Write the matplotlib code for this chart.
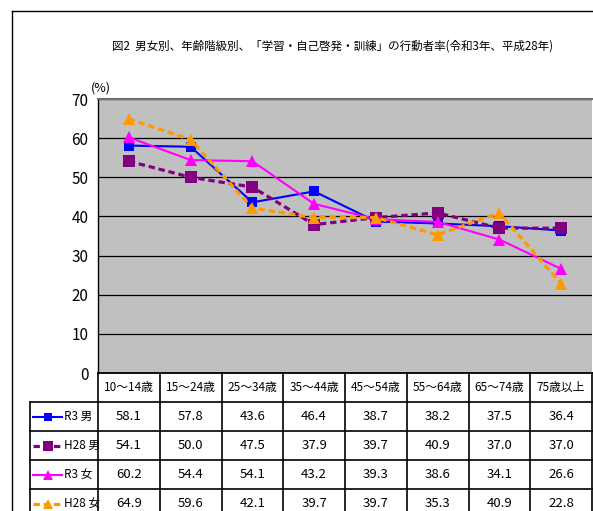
import numpy as np
import matplotlib.pyplot as plt
from matplotlib.lines import Line2D

plt.rcParams['font.family'] = ['Noto Sans CJK JP', 'DejaVu Sans']

age_groups = ["10～14歳", "15～24歳", "25～34歳", "35～44歳",
              "45～54歳", "55～64歳", "65～74歳", "75歳以上"]
series_names = ["R3 男", "H28 男", "R3 女", "H28 女"]
r3_male = [58.1, 57.8, 43.6, 46.4, 38.7, 38.2, 37.5, 36.4]
h28_male = [54.1, 50.0, 47.5, 37.9, 39.7, 40.9, 37.0, 37.0]
r3_female = [60.2, 54.4, 54.1, 43.2, 39.3, 38.6, 34.1, 26.6]
h28_female = [64.9, 59.6, 42.1, 39.7, 39.7, 35.3, 40.9, 22.8]
y_ticks = [0, 10, 20, 30, 40, 50, 60, 70]

all_series = [r3_male, h28_male, r3_female, h28_female]
styles = [
    dict(color="#0000FF", linestyle="-", linewidth=1.5, marker="s", markersize=7.5),
    dict(color="#800080", linestyle=(0, (2.0, 1.2)), linewidth=2.3, marker="s", markersize=8.5),
    dict(color="#FF00FF", linestyle="-", linewidth=1.5, marker="^", markersize=8.5),
    dict(color="#FF9900", linestyle=(0, (2.0, 1.2)), linewidth=2.3, marker="^", markersize=8.5),
]

W, H = 593, 511
fig = plt.figure(figsize=(W / 100, H / 100), dpi=100)

# plot area (pixel box 98..592 x 99..373)
ax = fig.add_axes([98 / W, (H - 373) / H, 494 / W, 274 / H])
ax.set_facecolor("#C0C0C0")
x = np.arange(len(age_groups))
for vals, st in zip(all_series, styles):
    ax.plot(x, vals, markeredgewidth=0, **st)

ax.set_xlim(-0.5, 7.5)
ax.set_ylim(0, 70)
ax.set_yticks(y_ticks)
ax.set_yticklabels([str(t) for t in y_ticks], fontsize=11)
ax.set_xticks([])
ax.tick_params(axis="y", length=0, pad=7)
ax.yaxis.grid(True, color="black", linewidth=0.9)
ax.set_axisbelow(True)
ax.spines["top"].set_color("#707070")
ax.spines["top"].set_linewidth(1.5)
ax.spines["right"].set_visible(False)
ax.spines["left"].set_linewidth(1.0)
ax.spines["bottom"].set_linewidth(1.3)
ax.annotate("(%)", xy=(0, 1), xycoords="axes fraction", xytext=(2, 8),
            textcoords="offset points", ha="center", va="center", fontsize=9)

fig.text(333 / W, (H - 46) / H,
         "図2  男女別、年齢階級別、「学習・自己啓発・訓練」の行動者率(令和3年、平成28年)",
         ha="center", va="center", fontsize=8.3)

# data table under the plot
col_px = 494 / 8
left_col = -0.5 - 68 / col_px
tax = fig.add_axes([30 / W, (H - 518) / H, 562 / W, 145 / H])
tax.set_xlim(left_col, 7.5)
tax.set_ylim(5, 0)
tax.axis("off")

lw = 1.2
for r in range(1, 5):
    tax.plot([left_col, 7.5], [r, r], color="black", linewidth=lw, clip_on=False)
for c in range(9):
    tax.plot([c - 0.5, c - 0.5], [0, 5], color="black", linewidth=lw, clip_on=False)
tax.plot([left_col, left_col], [1, 5], color="black", linewidth=lw, clip_on=False)

for c, lab in enumerate(age_groups):
    tax.text(c, 0.5, lab, ha="center", va="center", fontsize=8.5)

def px2col(px):
    return left_col + (px - 30) / col_px

for r, (name, vals, st) in enumerate(zip(series_names, all_series, styles)):
    yrow = r + 1.5
    tax.add_line(Line2D([px2col(33), px2col(62)], [yrow, yrow], color=st["color"],
                        linestyle=st["linestyle"], linewidth=st["linewidth"]))
    tax.plot([px2col(47.5)], [yrow], color=st["color"], marker=st["marker"],
             markersize=st["markersize"] * 0.8, markeredgewidth=0, linestyle="none")
    tax.text(px2col(63.5), yrow, name, ha="left", va="center", fontsize=8.5)
    for c, v in enumerate(vals):
        tax.text(c, yrow, f"{v:.1f}", ha="center", va="center", fontsize=9.5)

# outer frame (top and left edges visible)
fig.add_artist(Line2D([12 / W, 592 / W], [(H - 11) / H, (H - 11) / H],
                      color="black", linewidth=1.0))
fig.add_artist(Line2D([12 / W, 12 / W], [0, (H - 11) / H],
                      color="black", linewidth=1.0))

fig.savefig("out.png", dpi=100)
